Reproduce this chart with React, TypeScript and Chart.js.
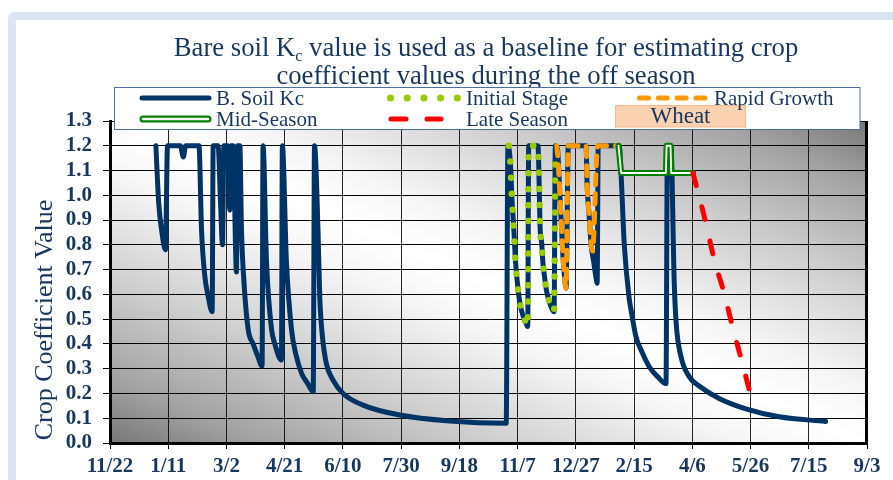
import React, { useEffect, useRef } from 'react';
import { Chart, registerables } from 'chart.js';

Chart.register(...registerables);

const NAVY = '#17375E';
const SERIF = '"Liberation Serif", "Times New Roman", serif';

// x axis: days counted from 11/22, one tick every 50 days
const xTickLabels = ['11/22', '1/11', '3/2', '4/21', '6/10', '7/30', '9/18', '11/7', '12/27', '2/15', '4/6', '5/26', '7/15', '9/3'];
const xTickDays = [0, 50, 100, 150, 200, 250, 300, 350, 400, 450, 500, 550, 600, 650];
const yTickValues = [0, 0.1, 0.2, 0.3, 0.4, 0.5, 0.6, 0.7, 0.8, 0.9, 1.0, 1.1, 1.2, 1.3];

// B. Soil Kc
const soilDays = [
  39.4, 41.8, 44.3, 47.6, 49.4, 60.5, 62.9, 65.0, 76.4, 78.6, 81.5, 84.0, 87.7, 88.6, 92.8, 94.9, 96.6, 97.8,
  101.0, 102.9, 103.9, 105.7, 108.6, 109.5, 111.5, 112.9, 114.9, 118.6, 122.9, 126.9, 130.6, 131.4, 134.4,
  138.7, 141.5, 147.2, 148.0, 151.5, 155.8, 159.5, 164.6, 169.8, 174.5, 175.6, 178.6, 180.1, 182.4, 185.8,
  191.5, 200.1, 217.2, 248.7, 291.5, 340.2, 341.7, 343.8, 345.0, 346.7, 348.1, 350.7, 353.0, 357.3, 358.7,
  359.5, 367.5, 368.1, 368.7, 369.3, 370.7, 371.5, 373.0, 375.0, 378.7, 381.3, 382.4, 384.2, 385.9, 387.3,
  388.7, 390.1, 391.6, 393.5, 408.8, 409.7, 411.6, 413.1, 415.3, 417.4, 418.3, 419.2, 437.3, 438.7, 441.6,
  445.9, 447.3, 451.6, 457.3, 463.0, 470.2, 477.4, 478.6, 481.6, 484.5, 486.2, 490.2, 497.3, 505.9, 523.0,
  546.0, 574.5, 614.5,
];
const soilKc = [
  1.2, 0.97, 0.86, 0.78, 1.2, 1.2, 1.155, 1.2, 1.2, 0.86, 0.67, 0.6, 0.53, 1.2, 1.2, 0.97, 0.8, 1.2,
  1.2, 0.94, 1.2, 1.2, 0.69, 1.2, 1.2, 0.86, 0.66, 0.46, 0.4, 0.35, 0.31, 1.2, 0.73,
  0.46, 0.4, 0.335, 1.2, 0.73, 0.46, 0.36, 0.28, 0.24, 0.207, 1.2, 0.86, 0.59, 0.43, 0.32,
  0.254, 0.2, 0.153, 0.113, 0.089, 0.08, 1.2, 1.13, 1.0, 0.867, 0.74, 0.607, 0.541, 0.483, 0.47,
  1.2, 1.2, 1.13, 1.0, 0.87, 0.806, 0.74, 0.675, 0.61, 0.55, 0.53, 1.2, 1.19, 1.04, 0.91,
  0.77, 0.68, 0.625, 1.2, 1.2, 1.04, 0.907, 0.8, 0.732, 0.665, 0.645, 1.2, 1.2, 1.1, 0.8,
  0.58, 0.54, 0.43, 0.362, 0.308, 0.268, 0.24, 1.2, 1.2, 0.645, 0.48, 0.35, 0.268, 0.23, 0.18,
  0.138, 0.106, 0.087,
];

// Initial Stage
const initDays = [342.4, 343.8, 345.0, 346.7, 348.1, 350.7, 353.0, 357.3, 358.7, 359.5, 367.5, 368.1, 368.7, 369.3, 370.7, 371.5, 373.0, 375.0, 378.7, 381.3, 382.4];
const initKc = [1.2, 1.13, 1.0, 0.867, 0.74, 0.607, 0.541, 0.483, 0.47, 1.2, 1.2, 1.13, 1.0, 0.87, 0.806, 0.74, 0.675, 0.61, 0.55, 0.53, 1.15];

// Rapid Growth
const rapidDays = [383.6, 384.6, 385.9, 387.3, 388.7, 390.1, 391.6, 393.5, 408.8, 409.7, 411.6, 413.1, 414.3, 418.8, 435.9];
const rapidKc = [1.2, 1.15, 1.04, 0.91, 0.77, 0.68, 0.625, 1.2, 1.2, 1.04, 0.907, 0.8, 0.775, 1.2, 1.2];

// Mid-Season
const midDays = [436.6, 438.9, 477.3, 477.9, 481.3, 481.9, 500.6];
const midKc = [1.2, 1.09, 1.09, 1.2, 1.2, 1.09, 1.09];

// Late Season
const lateDays = [500.6, 511.7, 518.9, 527.4, 534.5, 543.1, 551.6];
const lateKc = [1.09, 0.887, 0.739, 0.604, 0.47, 0.32, 0.165];

const toPoints = (xs: number[], ys: number[]) => xs.map((x, i) => ({ x, y: ys[i] }));

const decor = {
  id: 'decor',
  beforeDraw(chart: any) {
    const { ctx, chartArea: a } = chart;
    const w = a.right - a.left;
    const h = a.bottom - a.top;
    const cx = (a.left + a.right) / 2;
    const cy = (a.top + a.bottom) / 2;
    let nx = h, ny = -w;
    const len = Math.hypot(nx, ny);
    nx /= len; ny /= len;
    const half = (a.right - cx) * nx + (a.top - cy) * ny;
    const g = ctx.createLinearGradient(cx - half * nx, cy - half * ny, cx + half * nx, cy + half * ny);
    g.addColorStop(0, '#767676');
    g.addColorStop(0.1, '#a2a2a2');
    g.addColorStop(0.25, '#cdcdcd');
    g.addColorStop(0.42, '#f6f6f6');
    g.addColorStop(0.5, '#ffffff');
    g.addColorStop(0.58, '#f6f6f6');
    g.addColorStop(0.75, '#cdcdcd');
    g.addColorStop(0.9, '#a2a2a2');
    g.addColorStop(1, '#767676');
    ctx.save();
    ctx.fillStyle = g;
    ctx.fillRect(a.left, a.top, w, h);
    ctx.restore();
  },
  afterDraw(chart: any) {
    const { ctx, chartArea: a } = chart;
    ctx.save();
    // right border
    ctx.strokeStyle = '#000';
    ctx.lineWidth = 3;
    ctx.beginPath();
    ctx.moveTo(a.right - 0.5, a.top);
    ctx.lineTo(a.right - 0.5, a.bottom + 1.5);
    ctx.stroke();

    // title
    ctx.fillStyle = NAVY;
    ctx.textBaseline = 'alphabetic';
    ctx.textAlign = 'left';
    const big = `26.7px ${SERIF}`;
    const small = `16px ${SERIF}`;
    const t1 = 'Bare soil K';
    const t2 = 'c';
    const t3 = ' value is used as a baseline for estimating crop';
    ctx.font = big;
    const w1 = ctx.measureText(t1).width;
    const w3 = ctx.measureText(t3).width;
    ctx.font = small;
    const w2 = ctx.measureText(t2).width;
    const total = w1 + w2 + w3;
    let tx = 486 - total / 2;
    ctx.font = big;
    ctx.fillText(t1, tx, 56);
    tx += w1;
    ctx.font = small;
    ctx.fillText(t2, tx, 61);
    tx += w2;
    ctx.font = big;
    ctx.fillText(t3, tx, 56);
    ctx.textAlign = 'center';
    ctx.fillText('coefficient values during the off season', 486, 84);

    // y axis title
    ctx.save();
    ctx.translate(45, 320);
    ctx.rotate(-Math.PI / 2);
    ctx.font = `26px ${SERIF}`;
    ctx.textAlign = 'center';
    ctx.textBaseline = 'middle';
    ctx.fillText('Crop Coefficient Value', 0, 0);
    ctx.restore();

    // legend box
    ctx.fillStyle = '#fff';
    ctx.fillRect(114, 87.5, 746, 42);
    ctx.strokeStyle = '#4F6EA0';
    ctx.lineWidth = 1;
    ctx.strokeRect(114.5, 87.5, 745.5, 42);

    const r1 = 98, r2 = 119;
    ctx.lineCap = 'round';
    // B. Soil Kc
    ctx.strokeStyle = '#003366';
    ctx.lineWidth = 5;
    ctx.beginPath(); ctx.moveTo(142, r1); ctx.lineTo(209, r1); ctx.stroke();
    // Mid-Season
    ctx.strokeStyle = '#008000';
    ctx.lineWidth = 7;
    ctx.beginPath(); ctx.moveTo(143, r2); ctx.lineTo(208, r2); ctx.stroke();
    ctx.strokeStyle = '#fff';
    ctx.lineWidth = 2.5;
    ctx.beginPath(); ctx.moveTo(143, r2); ctx.lineTo(208, r2); ctx.stroke();
    // Initial stage dots
    ctx.fillStyle = '#99CC00';
    for (let i = 0; i < 5; i++) {
      ctx.beginPath(); ctx.arc(390.5 + i * 16.7, r1, 3.5, 0, Math.PI * 2); ctx.fill();
    }
    // Late season dashes
    ctx.strokeStyle = '#FF0000';
    ctx.lineWidth = 5;
    ctx.beginPath(); ctx.moveTo(391, r2); ctx.lineTo(406, r2); ctx.stroke();
    ctx.beginPath(); ctx.moveTo(427, r2); ctx.lineTo(441, r2); ctx.stroke();
    // Rapid growth dashes
    ctx.strokeStyle = '#FF9900';
    for (let i = 0; i < 4; i++) {
      const s = 639.5 + i * 18.8;
      ctx.beginPath(); ctx.moveTo(s, r1); ctx.lineTo(s + 9, r1); ctx.stroke();
    }
    // Wheat box
    ctx.fillStyle = '#FAD2B2';
    ctx.fillRect(615, 105, 131, 22);
    ctx.strokeStyle = '#F5B98C';
    ctx.lineWidth = 1;
    ctx.strokeRect(615.5, 105.5, 130, 21.5);

    ctx.fillStyle = NAVY;
    ctx.font = `21px ${SERIF}`;
    ctx.textAlign = 'left';
    ctx.textBaseline = 'middle';
    ctx.fillText('B. Soil Kc', 216, r1 + 1);
    ctx.fillText('Mid-Season', 216, r2 + 1);
    ctx.fillText('Initial Stage', 466, r1 + 1);
    ctx.fillText('Late Season', 466, r2 + 1);
    ctx.fillText('Rapid Growth', 714, r1 + 1);
    ctx.font = `23px ${SERIF}`;
    ctx.textAlign = 'center';
    ctx.fillText('Wheat', 680.5, 117);
    ctx.restore();
  },
};

export default function App() {
  const ref = useRef<HTMLCanvasElement>(null);

  useEffect(() => {
    const canvas = ref.current;
    if (!canvas) return;
    const lineBase = {
      pointRadius: 0,
      pointHoverRadius: 0,
      fill: false,
      borderCapStyle: 'round',
      borderJoinStyle: 'round',
      cubicInterpolationMode: 'monotone',
    };
    const chart = new Chart(canvas, {
      type: 'line',
      data: {
        datasets: [
          { ...lineBase, label: 'B. Soil Kc', data: toPoints(soilDays, soilKc), borderColor: '#003366', borderWidth: 5, order: 6 },
          { ...lineBase, label: 'Initial Stage', data: toPoints(initDays, initKc), borderColor: '#99CC00', borderWidth: 6.5, borderDash: [0, 16], order: 5 },
          { ...lineBase, label: 'Rapid Growth', data: toPoints(rapidDays, rapidKc), borderColor: '#FF9900', borderWidth: 5, borderDash: [10, 9], order: 4 },
          { ...lineBase, label: 'Mid-Season', data: toPoints(midDays, midKc), borderColor: '#008000', borderWidth: 6, cubicInterpolationMode: 'default', tension: 0, order: 3 },
          { ...lineBase, label: 'Mid-Season inner', data: toPoints(midDays, midKc), borderColor: '#FFFFFF', borderWidth: 1.8, cubicInterpolationMode: 'default', tension: 0, order: 2 },
          { ...lineBase, label: 'Late Season', data: toPoints(lateDays, lateKc), borderColor: '#FF0000', borderWidth: 5, borderDash: [13, 22], order: 1 },
        ],
      } as any,
      options: {
        animation: false,
        responsive: false,
        events: [],
        layout: { padding: { left: 0, top: 121, right: 26, bottom: 0 } },
        plugins: { legend: { display: false }, title: { display: false }, tooltip: { enabled: false } },
        scales: {
          x: {
            type: 'linear',
            min: xTickDays[0],
            max: xTickDays[xTickDays.length - 1],
            afterFit: (s: any) => { s.height = 37; },
            afterBuildTicks: (s: any) => { s.ticks = xTickDays.map((v) => ({ value: v })); },
            ticks: {
              autoSkip: false,
              maxRotation: 0,
              padding: 5,
              color: NAVY,
              font: { family: SERIF, size: 21, weight: 'bold' },
              callback: (v: any) => xTickLabels[xTickDays.indexOf(Number(v))] ?? '',
            },
            grid: { color: 'rgba(0,0,0,0.85)', lineWidth: 1, tickLength: 6, tickColor: '#000' },
            border: { color: '#000', width: 3 },
          },
          y: {
            type: 'linear',
            min: yTickValues[0],
            max: yTickValues[yTickValues.length - 1],
            afterFit: (s: any) => { s.width = 110; },
            afterBuildTicks: (s: any) => { s.ticks = yTickValues.map((v) => ({ value: v })); },
            ticks: {
              autoSkip: false,
              padding: 11,
              color: NAVY,
              font: { family: SERIF, size: 21, weight: 'bold' },
              callback: (v: any) => Number(v).toFixed(1),
            },
            grid: { color: '#000', lineWidth: 1, tickLength: 7, tickColor: '#000' },
            border: { color: '#000', width: 3 },
          },
        },
      } as any,
      plugins: [decor],
    });
    return () => chart.destroy();
  }, []);

  return (
    <div style={{ position: 'fixed', left: 0, top: 0, width: 893, height: 480, overflow: 'hidden', background: '#fff' }}>
      <div
        style={{
          position: 'absolute', left: 8, top: 12, width: 940, height: 520,
          border: '8px solid #DCE6F2', borderRadius: 6, background: '#fff', boxSizing: 'border-box',
        }}
      />
      <canvas ref={ref} width={893} height={480} style={{ position: 'absolute', left: 0, top: 0, width: 893, height: 480 }} />
    </div>
  );
}
